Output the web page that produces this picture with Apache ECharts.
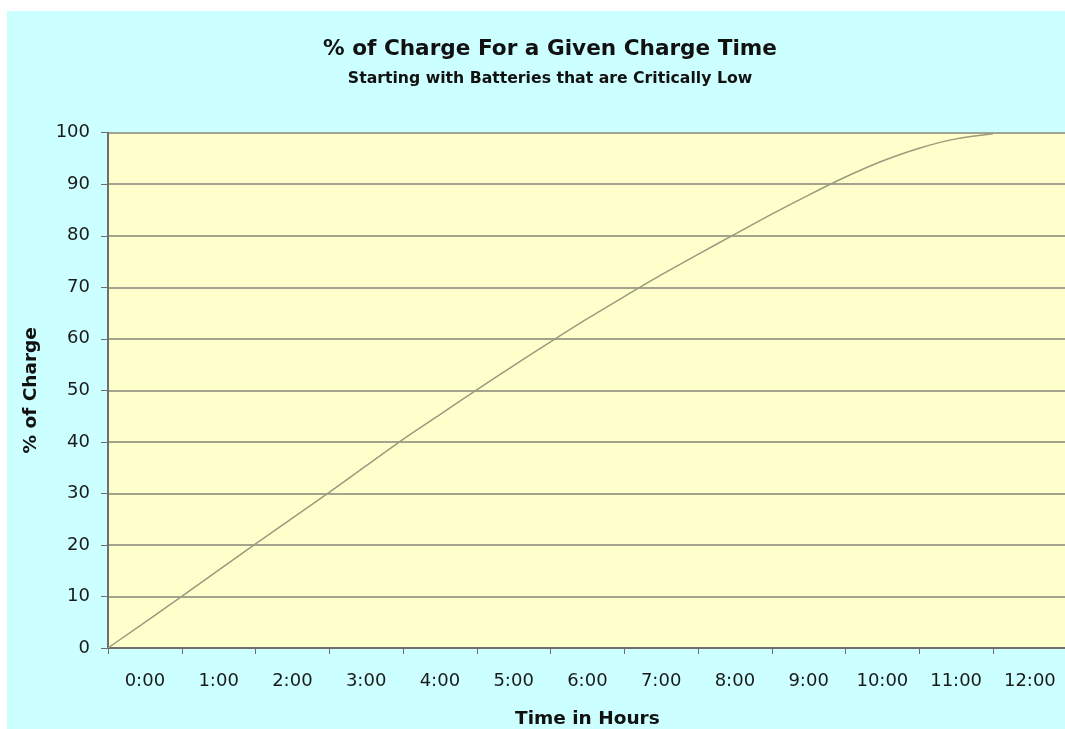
<!DOCTYPE html>
<html>
<head>
<meta charset="utf-8">
<script src="https://cdn.jsdelivr.net/npm/echarts@6/dist/echarts.min.js"></script>
<style>
  html, body { margin: 0; padding: 0; background: #ffffff; }
  #chart { position: absolute; left: 7px; top: 11px; width: 1058px; height: 718px; }
</style>
</head>
<body>
<div id="chart"></div>
<script>
// Category labels (x axis)
const timeLabels = ['0:00','1:00','2:00','3:00','4:00','5:00','6:00','7:00','8:00','9:00','10:00','11:00','12:00'];
// Charge curve: hours since start and % of charge
const hours  = [0, 1, 2, 3, 4, 4.5, 5, 5.5, 6, 6.5, 7, 7.5, 8, 8.5, 9, 9.5, 10, 10.5, 11, 11.5, 12];
const charge = [0, 10, 20.2, 30.2, 40.5, 45.3, 50.1, 54.8, 59.4, 63.9, 68.2, 72.4, 76.4, 80.3, 84.2, 87.9, 91.4, 94.5, 97.0, 98.8, 99.8];
const yTicks = { min: 0, max: 100, interval: 10 };

const titleText = '% of Charge For a Given Charge Time';
const subtitleText = 'Starting with Batteries that are Critically Low';
const xName = 'Time in Hours';
const yName = '% of Charge';

const FONT = "'DejaVu Sans', sans-serif";
const chart = echarts.init(document.getElementById('chart'), null, { renderer: 'canvas' });

chart.setOption({
  backgroundColor: '#CCFFFF',
  animation: false,
  title: [
    { text: titleText, left: 538, top: 22, textAlign: 'center',
      textStyle: { fontFamily: FONT, fontSize: 21.6, fontWeight: 'bold', color: '#111' } },
    { text: subtitleText, left: 538, top: 55, textAlign: 'center',
      textStyle: { fontFamily: FONT, fontSize: 15.7, fontWeight: 'bold', color: '#111' } }
  ],
  grid: {
    left: 101, top: 121.7, width: 958.75, height: 515.3,
    outerBoundsMode: 'none', containLabel: false,
    show: true, backgroundColor: '#FFFFCC', borderWidth: 0
  },
  xAxis: [
    {
      type: 'category', data: timeLabels, boundaryGap: true,
      name: xName, nameLocation: 'middle', nameGap: 62,
      nameTextStyle: { fontFamily: FONT, fontSize: 18.5, fontWeight: 'bold', color: '#111' },
      axisLine: { lineStyle: { color: '#6e6e6e', width: 2 } },
      axisTick: { show: true, length: 6, inside: false, lineStyle: { color: '#6e6e6e', width: 1 } },
      axisLabel: { fontFamily: FONT, fontSize: 18, color: '#1a1a1a', margin: 24, interval: 0 },
      splitLine: { show: false }
    },
    {
      type: 'value', min: 0, max: 13, show: false
    }
  ],
  yAxis: {
    type: 'value', min: yTicks.min, max: yTicks.max, interval: yTicks.interval,
    name: yName, nameLocation: 'middle', nameGap: 67, nameRotate: 90,
    nameTextStyle: { fontFamily: FONT, fontSize: 18.5, fontWeight: 'bold', color: '#111' },
    axisLine: { show: true, lineStyle: { color: '#6e6e6e', width: 2 } },
    axisTick: { show: true, length: 7, inside: false, lineStyle: { color: '#6e6e6e', width: 1 } },
    axisLabel: { fontFamily: FONT, fontSize: 18, color: '#1a1a1a', margin: 18 },
    splitLine: { show: true, lineStyle: { color: '#86867a', width: 1.5 } }
  },
  series: [
    {
      type: 'line', xAxisIndex: 1, yAxisIndex: 0,
      data: hours.map((h, i) => [h, charge[i]]),
      smooth: 0.3, symbol: 'none',
      lineStyle: { color: '#9c9a7c', width: 1.5 }
    }
  ]
});
</script>
</body>
</html>
